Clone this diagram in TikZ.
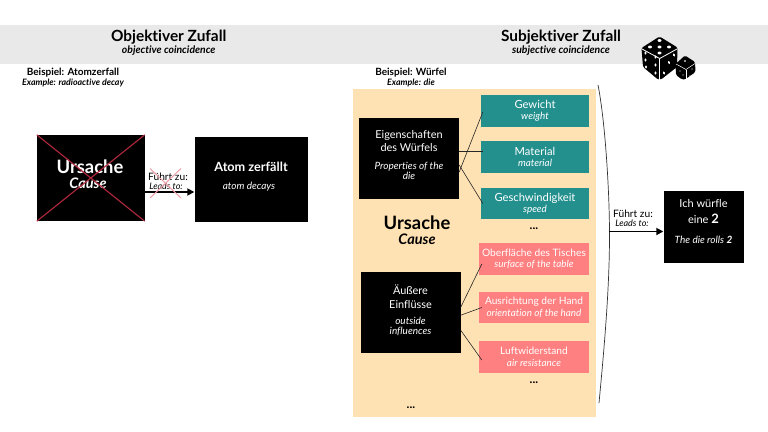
\documentclass[tikz,border=0pt]{standalone}
\usepackage{fontspec}
\setmainfont[Ligatures=NoCommon]{Lato}
\usetikzlibrary{arrows.meta}
\definecolor{band}{HTML}{E9E9E9}
\definecolor{panel}{HTML}{FFE2B3}
\definecolor{teal}{HTML}{23908E}
\definecolor{rosa}{HTML}{FF8080}
\definecolor{crossred}{HTML}{B5293F}
\definecolor{crosspink}{HTML}{F0A0A8}
\newcommand{\fs}[2]{\fontsize{#1}{#2}\selectfont}
\tikzset{
  x=1pt,y=-1pt,
  box/.style={rectangle,inner sep=0pt,align=center,text=white,draw=none},
  blackbox/.style={box,fill=black},
  tealbox/.style={box,fill=teal,minimum width=108pt,minimum height=31.5pt,font=\fs{11.2}{12.3}},
  pinkbox/.style={box,fill=rosa,minimum width=110pt,minimum height=31.5pt,font=\fs{10.2}{11.5}},
  txt/.style={inner sep=0pt,align=center,text=black},
  head/.style={txt,font=\fs{15.4}{16}\bfseries},
  sub/.style={txt,font=\fs{10.4}{11}\bfseries\itshape},
  ex/.style={txt,font=\fs{10}{11}\bfseries},
  exi/.style={txt,font=\fs{8.8}{10}\bfseries\itshape},
  link/.style={draw=black!85,line width=0.6pt},
  flow/.style={draw=black,line width=1.7pt,-{Triangle[length=7pt,width=7pt]}},
  xred/.style={draw=crossred,line width=1.1pt},
  xpink/.style={draw=crosspink,line width=1pt},
  pip/.style={fill=white,draw=none},
  dots/.style={txt,font=\fs{12}{12}\bfseries},
}
\begin{document}
\begin{tikzpicture}
\useasboundingbox (0,0) rectangle (768,431);
\fill[white] (0,0) rectangle (768,431);
\fill[band] (0,24.5) rectangle (768,64);

% headings
\node[head] (t1) at (168.7,36.7) {Objektiver Zufall};
\node[sub] (s1) at (168.7,50.5) {objective coincidence};
\node[head] (t2) at (561,36.7) {Subjektiver Zufall};
\node[sub] (s2) at (561,50.5) {subjective coincidence};
\node[ex] (b1) at (73,72.5) {Beispiel: Atomzerfall};
\node[exi] (e1) at (73,83) {Example: radioactive decay};
\node[ex] (b2) at (411,72.5) {Beispiel: Würfel};
\node[exi] (e2) at (411,83) {Example: die};

% left side
\node[blackbox,minimum width=107.5pt,minimum height=86pt] (ursL) at (90.75,178) {};
\node[txt,text=white,font=\fs{18.4}{19}\bfseries] (ursLa) at (90,167) {Ursache};
\node[txt,text=white,font=\fs{14.5}{15}\bfseries\itshape] (ursLb) at (88,183.5) {Cause};
\draw[xred] (ursL.north west) -- (ursL.south east);
\draw[xred] (ursL.north east) -- (ursL.south west);
\node[blackbox,minimum width=113.5pt,minimum height=85pt] (atom) at (251.25,179.5) {};
\node[txt,text=white,font=\fs{12.7}{13}\bfseries] (atoma) at (251,167) {Atom zerfällt};
\node[txt,text=white,font=\fs{10}{11}\itshape] (atomb) at (249,186.5) {atom decays};
\draw[flow] (ursL.east |- 0,192) -- (atom.west |- 0,192);
\node[txt,font=\fs{10.2}{11}] (fz1) at (168,177) {Führt zu:};
\node[txt,font=\fs{9}{10}\itshape] (lt1) at (166,186) {Leads to:};
\coordinate (pa) at (150,168.5); \coordinate (pb) at (181,198);
\draw[xpink] (pa) -- (pb);
\draw[xpink] (pa -| pb) -- (pb -| pa);

% panel
\fill[panel] (353,89) rectangle (596,417);

% upper group
\node[blackbox,minimum width=100pt,minimum height=81pt] (eig) at (409,158.5) {};
\node[txt,text=white,font=\fs{10.9}{13.5}] (eiga) at (409,141) {Eigenschaften\\des Würfels};
\node[txt,text=white,font=\fs{10}{10.5}\itshape] (eigb) at (409,171) {Properties of the\\die};
\node[tealbox] (gew) at (535,110.75) {Gewicht\\[-1pt]{\fs{9.9}{10}\itshape weight}};
\node[tealbox] (mat) at (535,157) {Material\\[-1pt]{\fs{9.9}{10}\itshape material}};
\node[tealbox] (ges) at (535,203.5) {Geschwindigkeit\\[-1pt]{\fs{9.9}{10}\itshape speed}};
\node[dots] (d1) at (534,229) {...};
\draw[link] ([yshift=-13.5pt]eig.east) -- ([xshift=2pt,yshift=-1.25pt]gew.west);
\draw[link] ([yshift=7.5pt]eig.east) -- ([xshift=2pt,yshift=6pt]mat.west);
\draw[link] ([yshift=-6.5pt]eig.east) -- ([xshift=2pt]ges.west);

\node[txt,font=\fs{18.4}{19}\bfseries] (ursR) at (417,223) {Ursache};
\node[txt,font=\fs{14.5}{15}\bfseries\itshape] (ursRb) at (417,239) {Cause};

% lower group
\node[blackbox,minimum width=100pt,minimum height=81.5pt] (aeu) at (410.5,312.25) {};
\node[txt,text=white,font=\fs{10.9}{13.5}] (aeua) at (410.5,296.7) {Äußere\\Einflüsse};
\node[txt,text=white,font=\fs{10}{10.5}\itshape] (aeub) at (410.5,326.5) {outside\\influences};
\node[pinkbox] (obe) at (534,259) {Oberfläche des Tisches\\{\fs{9.9}{10}\itshape surface of the table}};
\node[pinkbox] (aus) at (534,307.5) {Ausrichtung der Hand\\{\fs{9.9}{10}\itshape orientation of the hand}};
\node[pinkbox] (luf) at (534,357) {Luftwiderstand\\{\fs{9.9}{10}\itshape air resistance}};
\node[dots] (d2) at (534,383) {...};
\node[dots] (d3) at (411,408) {...};
\draw[link] ([yshift=5pt]aeu.east) -- ([xshift=3pt,yshift=-5pt]obe.west);
\draw[link] ([yshift=-3pt]aeu.east) -- ([xshift=3pt]aus.west);
\draw[link] ([yshift=-18pt]aeu.east) -- ([xshift=3pt,yshift=-3pt]luf.west);

% bracket
\coordinate (bt) at (598,85); \coordinate (bm) at (609.5,235); \coordinate (bb) at (599,403);
\draw[draw=black!80,line width=0.7pt] (bt) .. controls (605,120) and (609.5,190) .. (bm) .. controls (609.5,290) and (604,350) .. (bb);

% right side
\node[blackbox,minimum width=80pt,minimum height=72.5pt] (roll) at (703.5,226.75) {};
\node[txt,text=white,font=\fs{11}{15.5}] (rolla) at (703.5,211.5) {Ich würfle\\eine {\fs{13}{15.5}\bfseries 2}};
\node[txt,text=white,font=\fs{10}{11}\itshape] (rollb) at (703.5,240) {The die rolls {\bfseries 2}};
\coordinate (fs) at (609,231.5);
\draw[flow] (fs) -- (roll.west |- fs);
\node[txt,font=\fs{10.2}{11}] (fz2) at (633,214) {Führt zu:};
\node[txt,font=\fs{9}{10}\itshape] (lt2) at (632,223) {Leads to:};

% dice
\fill[black,rounded corners=1.5pt] (659.5,36.5) -- (677.5,47.5) -- (677,67) -- (661,79.5) -- (658,79.5) -- (643,67) -- (641.5,48) -- cycle;
\draw[white,line width=0.8pt] (642,49) -- (659.7,58.5) -- (677,49);
\draw[white,line width=0.8pt] (659.7,58.5) -- (659.7,80);
\foreach \p/\q in {659.5/40.5,650/47,669/47,659.5/47,659.5/53}
  \fill[pip] (\p,\q) ellipse (2pt and 1.4pt);
\foreach \p/\q in {645.5/53,645.5/60,646/67,655.5/57,655.5/65,655.5/73}
  \fill[pip] (\p,\q) ellipse (1.1pt and 1.7pt);
\foreach \p/\q in {674/55,664/73,669/62.5}
  \fill[pip,rotate around={30:(\p,\q)}] (\p,\q) ellipse (1.1pt and 1.8pt);
\fill[black,rounded corners=1.5pt] (685,55.5) -- (695,62) -- (695.5,72) -- (685,79.5) -- (682,79.5) -- (676,75) -- (675.5,64) -- cycle;
\draw[white,line width=0.5pt] (676,64) -- (686,69.5) -- (695,63.5);
\draw[white,line width=0.5pt] (686,69.5) -- (686,79);
\fill[pip] (685,61) ellipse (1.2pt and 0.8pt);
\foreach \p/\q in {680/71,683/75,690/76,692/69}
  \fill[pip] (\p,\q) circle (0.7pt);
\end{tikzpicture}
\end{document}
